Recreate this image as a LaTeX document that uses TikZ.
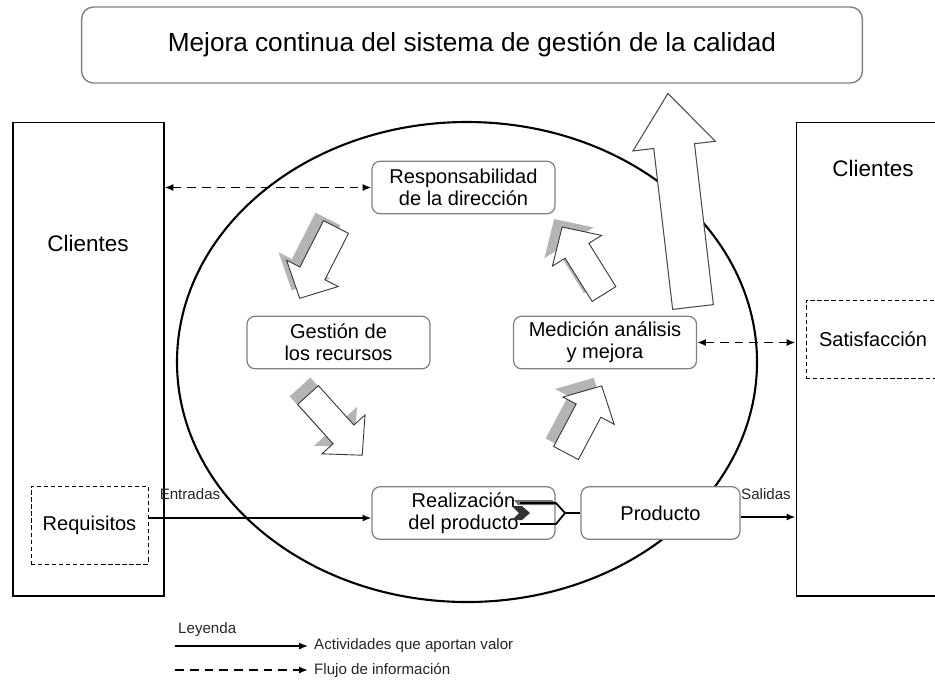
\documentclass[tikz,border=0pt]{standalone}
\usepackage{fontspec}
\setmainfont{Liberation Sans}
\usetikzlibrary{arrows.meta}

\definecolor{boxgray}{RGB}{128,128,128}
\definecolor{shadowgray}{RGB}{180,180,180}

% fat arrow with its shadow: tail point, angle, length
\newcommand{\calarrow}[3]{%
  \fill[shadowgray, shift={#1}, xshift=-0.16cm, yshift=0.16cm, rotate=#2]
    (0,-14) -- (#3-28,-14) -- (#3-28,-29) -- (#3,0) -- (#3-28,29) -- (#3-28,14) -- (0,14) -- cycle;
  \draw[fill=white, draw=black!80, line width=0.5pt, shift={#1}, rotate=#2]
    (0,-14) -- (#3-28,-14) -- (#3-28,-29) -- (#3,0) -- (#3-28,29) -- (#3-28,14) -- (0,14) -- cycle;
}

\begin{document}
\begin{tikzpicture}[
    x=0.02cm, y=-0.02cm,
    >={Latex[length=5pt,width=4pt]},
    every node/.style={align=center},
    proc/.style={draw=boxgray, fill=white, rounded corners=0.16cm, line width=0.7pt,
      minimum width=3.66cm, minimum height=1.05cm, inner sep=0pt,
      font=\fontsize{11.4}{12.6}\selectfont},
    client/.style={draw, line width=0.6pt, inner sep=0pt},
    dashbox/.style={draw, dash pattern=on 2.4pt off 1.6pt, line width=0.5pt, inner sep=0pt,
      font=\fontsize{11.4}{12.6}\selectfont},
    bigtext/.style={font=\fontsize{12.8}{14}\selectfont},
    small/.style={font=\fontsize{8.6}{10}\selectfont, text=black!85},
    info/.style={dash pattern=on 5pt off 3.4pt, line width=1pt},
    act/.style={line width=0.9pt, ->},
  ]
  \useasboundingbox (0,0) rectangle (935,681);

  \node[draw=boxgray, rounded corners=0.24cm, line width=0.8pt, minimum width=15.62cm,
    minimum height=1.52cm, font=\fontsize{14.9}{16}\selectfont] (mejora) at (472,45)
    {Mejora continua del sistema de gestión de la calidad};

  \node[client, minimum width=3.02cm, minimum height=9.48cm] (cliL) at (88.5,359) {};
  \node[client, minimum width=3.28cm, minimum height=9.48cm] (cliR) at (878,359) {};
  \node[bigtext] (txtL) at (88,243) {Clientes};
  \node[bigtext] (txtR) at (873,168) {Clientes};
  \node[dashbox, minimum width=2.34cm, minimum height=1.56cm] (req) at (89.5,525) {Requisitos};
  \node[dashbox, minimum width=2.68cm, minimum height=1.56cm] (sat) at (873,339) {Satisfacción};

  \draw[line width=1.2pt] (467,362) ellipse [x radius=290, y radius=240];

  \draw[draw=black!70, fill=white, line width=0.6pt, shift={(693,307)}, rotate=96.7]
    (0,-20.5) -- (162,-20.5) -- (162,-41.5) -- (215,0) -- (162,41.5) -- (162,20.5) -- (0,20.5) -- cycle;

  \node[proc] (resp) at (463.5,187.5) {Responsabilidad\\de la dirección};
  \node[proc] (gest) at (338.5,342.5) {Gestión de\\los recursos};
  \node[proc] (med) at (605,342.5) {Medición análisis\\y mejora};
  \node[proc] (real) at (463.5,513) {Realización\\del producto};
  \node[proc, minimum width=3.18cm] (prod) at (660.5,513) {Producto};

  \calarrow{(336,227)}{-117}{80}
  \calarrow{(308,395)}{-48}{81}
  \calarrow{(604,294)}{122}{79}
  \calarrow{(566,453)}{62}{76}

  \draw[info, <->] (resp.west -| cliL.east) -- (resp.west);
  \draw[info, <->] (med.east) -- (med.east -| cliR.west);
  \draw[act] (req.east |- 0,518) -- (real.west |- 0,518);
  \draw[line width=1.5pt, ->] (prod.east |- 0,517) -- (cliR.west |- 0,517);
  \node[small] (entr) at (190,494) {Entradas};
  \node[small] (sal) at (766,494) {Salidas};

  \fill[black!55] (514,500) -- (552,500) -- (558,505) -- (518,505) -- cycle;
  \draw[line width=1pt] (520,503) -- (556,503) -- (565,513) -- (556,524) -- (520,524);
  \fill[black!80] (512,506) -- (522,506) -- (530,513) -- (522,520) -- (512,520) -- (519,513) -- cycle;
  \coordinate (chev) at (565,513);
  \draw[line width=1pt] (chev) -- (prod.west);

  \node[small, anchor=west] (ley) at (172,630) {Leyenda};
  \coordinate (act0) at (175,646);
  \coordinate (act1) at (308,646);
  \coordinate (inf0) at (175,670);
  \coordinate (inf1) at (308,670);
  \node[small, anchor=west] (actlbl) at (308,646) {Actividades que aportan valor};
  \node[small, anchor=west] (inflbl) at (308,670) {Flujo de información};
  \draw[act] (act0) -- (act1);
  \draw[info, ->] (inf0) -- (inf1);
\end{tikzpicture}
\end{document}
